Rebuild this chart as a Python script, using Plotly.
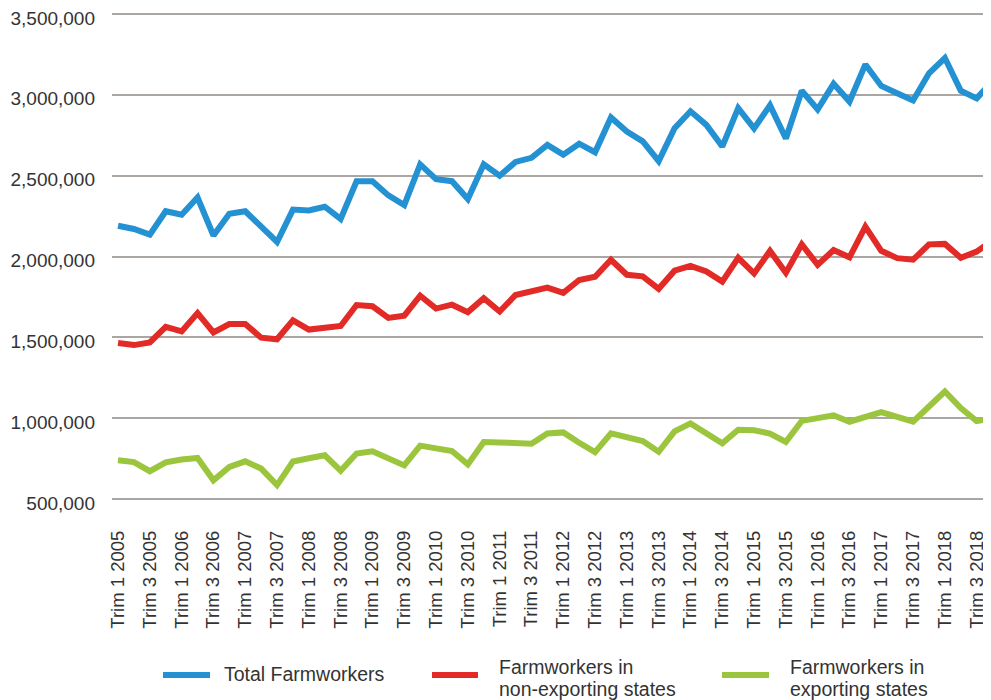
import plotly.graph_objects as go

# Quarter labels (Trim 1 2005 ... Trim 4 2018)
years = list(range(2005, 2019))
quarters = [f"Trim {q} {y}" for y in years for q in (1, 2, 3, 4)]

total_farmworkers = [
    2190000, 2170000, 2135000, 2280000, 2258000, 2365000, 2130000, 2265000,
    2280000, 2182000, 2090000, 2290000, 2285000, 2308000, 2232000, 2465000,
    2465000, 2378000, 2318000, 2570000, 2478000, 2466000, 2355000, 2570000,
    2500000, 2585000, 2610000, 2690000, 2630000, 2698000, 2645000, 2860000,
    2773000, 2712000, 2590000, 2793000, 2898000, 2814000, 2680000, 2918000,
    2792000, 2935000, 2730000, 3025000, 2910000, 3068000, 2958000, 3188000,
    3055000, 3010000, 2965000, 3133000, 3228000, 3025000, 2978000, 3085000,
]
non_exporting = [
    1465000, 1452000, 1468000, 1565000, 1537000, 1650000, 1530000, 1582000,
    1582000, 1498000, 1488000, 1605000, 1548000, 1561000, 1570000, 1700000,
    1692000, 1620000, 1634000, 1758000, 1678000, 1702000, 1656000, 1742000,
    1660000, 1762000, 1786000, 1808000, 1775000, 1855000, 1875000, 1980000,
    1887000, 1877000, 1800000, 1912000, 1942000, 1908000, 1845000, 1992000,
    1895000, 2035000, 1900000, 2075000, 1948000, 2040000, 1995000, 2185000,
    2035000, 1990000, 1980000, 2075000, 2078000, 1992000, 2030000, 2100000,
]
exporting = [
    740000, 728000, 672000, 727000, 744000, 754000, 616000, 698000,
    733000, 688000, 586000, 732000, 752000, 770000, 675000, 781000,
    795000, 750000, 708000, 830000, 815000, 797000, 714000, 852000,
    850000, 846000, 842000, 905000, 912000, 848000, 790000, 906000,
    880000, 858000, 792000, 918000, 968000, 908000, 845000, 928000,
    925000, 905000, 853000, 983000, 1005000, 1018000, 978000, 1010000,
    1038000, 1008000, 978000, 1072000, 1165000, 1062000, 982000, 998000,
]

series_names = ["Total Farmworkers",
                "Farmworkers in non-exporting states",
                "Farmworkers in exporting states"]
legend_lines = [["Total Farmworkers"],
                ["Farmworkers in", "non-exporting states"],
                ["Farmworkers in", "exporting states"]]
series_values = [total_farmworkers, non_exporting, exporting]
series_colors = ["#2491D3", "#E22A27", "#9BC53D"]

y_ticks = [500000, 1000000, 1500000, 2000000, 2500000, 3000000, 3500000]

FONT = "Liberation Sans, Arial, sans-serif"
TEXT = "#333333"

# The page body has an 8px default margin, so the figure is sized to fit
# the 991x700 window with that offset.
PAGE_OFF = 8
PAD_PX = 6          # padding so the edge gridlines (500k / 3.5M) are drawn
LABEL_DROP_PX = 4   # y tick labels sit slightly below their gridlines
W, H = 991 - PAGE_OFF, 700 - PAGE_OFF
ML, MR = 112 - PAGE_OFF, 0
MT, MB = 14 - PAGE_OFF - PAD_PX, 201 - PAD_PX
PW, PH = W - ML - MR, H - MT - MB
units_per_px = (y_ticks[-1] - y_ticks[0]) / (PH - 2 * PAD_PX)
y_range = [y_ticks[0] - PAD_PX * units_per_px, y_ticks[-1] + PAD_PX * units_per_px]
y_label_range = [v + LABEL_DROP_PX * units_per_px for v in y_range]


def px_x(px):
    return (px - PAGE_OFF - ML) / PW


def px_y(py):
    return (H - MB - (py - PAGE_OFF)) / PH


x_idx = list(range(len(quarters)))
tick_idx = x_idx[::2]
tick_text = [quarters[i] for i in tick_idx]

fig = go.Figure()
for name, vals, col in zip(series_names, series_values, series_colors):
    fig.add_trace(go.Scatter(
        x=x_idx, y=vals, mode="lines", name=name,
        line=dict(color=col, width=6, shape="linear"),
        hoverinfo="skip", showlegend=False,
    ))
# Empty trace so the label-only y axis is rendered
fig.add_trace(go.Scatter(x=[], y=[], yaxis="y2", mode="lines",
                         showlegend=False, hoverinfo="skip"))

# Manual legend (swatch + text), laid out like the reference
swatch_x = [(163, 210), (432, 478), (722, 769)]
text_x = [222, 497, 788]
swatch_y = 675
shapes = []
annotations = []
for (x0, x1), tx, col, lines in zip(swatch_x, text_x, series_colors, legend_lines):
    shapes.append(dict(type="line", xref="paper", yref="paper",
                       x0=px_x(x0), x1=px_x(x1), y0=px_y(swatch_y), y1=px_y(swatch_y),
                       line=dict(color=col, width=6)))
    line_y = [674] if len(lines) == 1 else [667, 689]
    for txt, ly in zip(lines, line_y):
        annotations.append(dict(text=txt, xref="paper", yref="paper",
                                x=px_x(tx), y=px_y(ly), xanchor="left", yanchor="middle",
                                showarrow=False,
                                font=dict(family=FONT, size=19.5, color=TEXT)))

fig.update_layout(
    width=W, height=H,
    margin=dict(l=ML, r=MR, t=MT, b=MB, autoexpand=False),
    paper_bgcolor="white", plot_bgcolor="white",
    font=dict(family=FONT, size=19, color=TEXT),
    showlegend=False,
    shapes=shapes, annotations=annotations,
    # Gridline axis (carries the data)
    yaxis=dict(
        range=y_range,
        tickmode="array", tickvals=y_ticks,
        showgrid=True, gridcolor="#ABA6A1", gridwidth=1.6,
        zeroline=False, showline=False, ticks="", showticklabels=False,
        automargin=False,
    ),
    # Label axis: same scale, labels dropped a few pixels below the gridlines
    yaxis2=dict(
        overlaying="y", side="left", anchor="x",
        range=y_label_range,
        tickmode="array", tickvals=y_ticks, tickformat=",d",
        showgrid=False, zeroline=False, showline=False, ticks="",
        ticklabelstandoff=16, ticklabeloverflow="allow", automargin=False,
        tickfont=dict(family=FONT, size=19, color=TEXT),
    ),
)
fig.update_xaxes(
    range=[-0.38, 54.9],
    tickmode="array", tickvals=tick_idx, ticktext=tick_text,
    tickangle=-90, showgrid=False, zeroline=False, showline=False,
    ticks="", ticklabelstandoff=15 + PAD_PX, automargin=False,
    tickfont=dict(family=FONT, size=18.5, color=TEXT),
)

fig.write_html("out.html")
